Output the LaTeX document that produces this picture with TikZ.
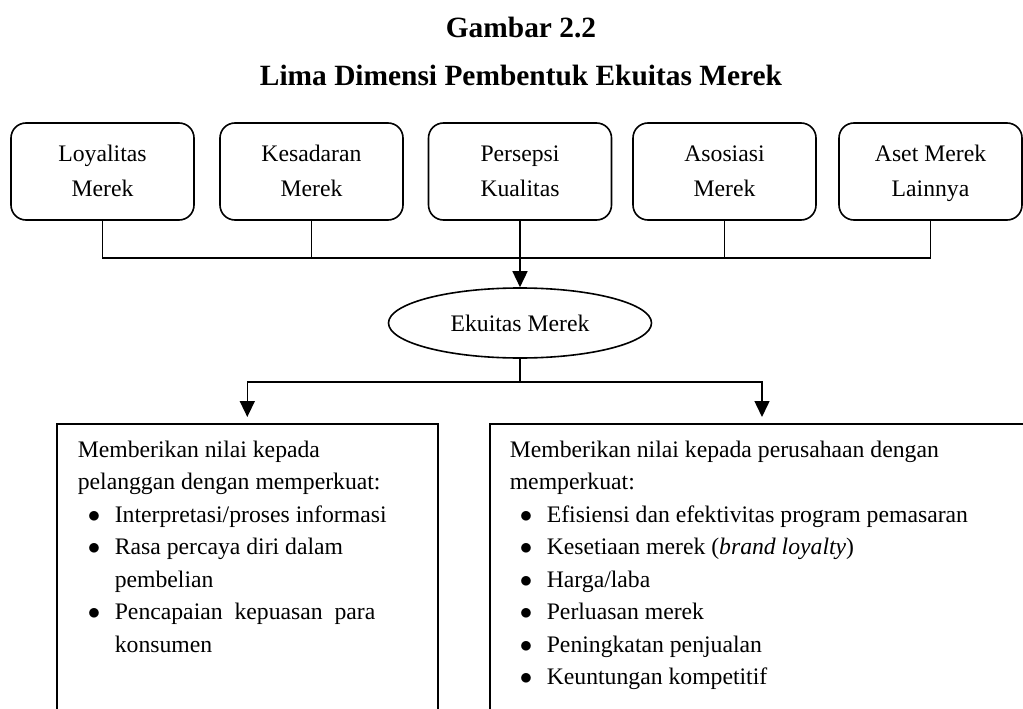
\documentclass[tikz,border=0pt]{standalone}
\usepackage{fontspec}
\setmainfont{Liberation Serif}
\usetikzlibrary{positioning,arrows.meta,shapes.geometric}

\newcommand{\butir}[1]{\par\noindent\hangindent=37pt\hangafter=1\makebox[37pt][l]{\hspace{10pt}$\bullet$}#1}

\begin{document}
\begin{tikzpicture}[
    x=1pt, y=-1pt,
    judul/.style={anchor=base, font=\bfseries\fontsize{29.4}{35}\selectfont},
    dimensi/.style={rectangle, draw, line width=1.6pt, rounded corners=15pt, minimum width=183pt, minimum height=97pt, align=center, inner sep=0pt, font=\fontsize{23.7}{35}\selectfont},
    ekuitas/.style={ellipse, draw, line width=1.6pt, minimum width=263pt, minimum height=70pt, inner sep=0pt, font=\fontsize{23.7}{30}\selectfont},
    manfaat/.style={rectangle, draw, line width=1.6pt, anchor=north west, inner ysep=17pt, font=\fontsize{23.7}{32.5}\selectfont},
    garis/.style={line width=1.5pt},
    panah/.style={-{Triangle[length=16pt,width=15pt]}, line width=1.5pt},
]
\useasboundingbox (0,0) rectangle (1023,709);
\clip (0,0) rectangle (1023,709);

% Judul
\node[judul] (gambar) at (521,38) {Gambar 2.2};
\node[judul] (subjudul) at (521,85) {Lima Dimensi Pembentuk Ekuitas Merek};

% Lima dimensi
\node[dimensi] (loyal) at (102.5,171.5) {\strut Loyalitas\\Merek\strut};
\node[dimensi] (sadar) at (311.5,171.5) {\strut Kesadaran\\Merek\strut};
\node[dimensi] (persepsi) at (520,171.5) {\strut Persepsi\\Kualitas\strut};
\node[dimensi] (asosiasi) at (724.5,171.5) {\strut Asosiasi\\Merek\strut};
\node[dimensi] (aset) at (930.5,171.5) {\strut Aset Merek\\Lainnya\strut};

% Ekuitas merek
\node[ekuitas] (ekuitas) at (520,323) {Ekuitas Merek};

% Nilai bagi pelanggan dan perusahaan
\node[manfaat, inner xsep=21pt] (pelanggan) at (56,423) {\begin{minipage}[t][300pt][t]{339pt}\raggedright
Memberikan nilai kepada\newline pelanggan dengan memperkuat:
\butir{Interpretasi/proses informasi}
\butir{Rasa percaya diri dalam\newline pembelian}
\butir{Pencapaian\ \ kepuasan\ \ para\newline konsumen}
\end{minipage}};
\node[manfaat, inner xsep=20pt] (perusahaan) at (489,423) {\begin{minipage}[t][300pt][t]{540pt}\raggedright
Memberikan nilai kepada perusahaan dengan\newline memperkuat:
\butir{Efisiensi dan efektivitas program pemasaran}
\butir{Kesetiaan merek (\textit{brand loyalty})}
\butir{Harga/laba}
\butir{Perluasan merek}
\butir{Peningkatan penjualan}
\butir{Keuntungan kompetitif}
\end{minipage}};

% Garis penghubung
\draw[garis] (loyal.south) -- ++(0,37) -| (aset.south);
\draw[garis] (sadar.south) -- ++(0,37);
\draw[garis] (asosiasi.south) -- ++(0,37);
\draw[panah] (persepsi.south) -- (ekuitas.north);

\draw[garis] (ekuitas.south) -- ++(0,23) coordinate (cabang);
\coordinate (masuk) at (762,423);
\draw[panah, shorten >=6pt] (cabang) -| (pelanggan.north);
\draw[panah, shorten >=6pt] (cabang) -| (masuk);

\end{tikzpicture}
\end{document}
